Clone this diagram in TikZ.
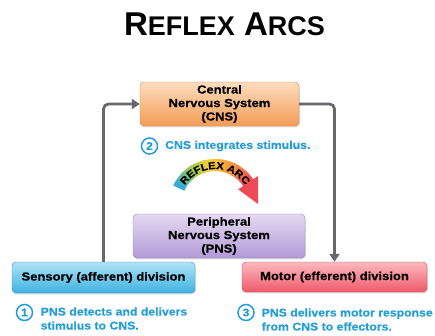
\documentclass[tikz,border=0pt]{standalone}
\usepackage{fontspec}
\setmainfont{Liberation Sans}
\newfontfamily\widesans[FakeStretch=1.12, BoldFeatures={FakeBold=0.6}]{Liberation Sans}
\newfontfamily\capsans[FakeStretch=1.095, BoldFeatures={FakeBold=0.4}]{Liberation Sans}
\usetikzlibrary{arrows.meta,shadows,decorations.text,calc}

\definecolor{captxt}{RGB}{36,158,216}
\definecolor{linkgray}{RGB}{104,105,110}
\definecolor{cnstop}{RGB}{253,221,190}
\definecolor{cnsbot}{RGB}{244,156,86}
\definecolor{pnstop}{RGB}{228,217,242}
\definecolor{pnsbot}{RGB}{178,154,214}
\definecolor{sentop}{RGB}{176,226,246}
\definecolor{senbot}{RGB}{62,178,226}
\definecolor{mottop}{RGB}{252,184,190}
\definecolor{motbot}{RGB}{237,90,106}
% colours along the reflex arc band
\definecolor{arcA}{RGB}{40,168,232}
\definecolor{arcB}{RGB}{150,202,70}
\definecolor{arcC}{RGB}{248,206,60}
\definecolor{arcD}{RGB}{247,150,60}
\definecolor{arcE}{RGB}{238,74,88}

\begin{document}
\begin{tikzpicture}[x=1pt,y=-1pt,
  divbox/.style={rounded corners=4pt, draw=#1bot!85!black, line width=.4pt,
    top color=#1top, bottom color=#1bot, align=center, inner sep=0pt,
    drop shadow={opacity=.28,shadow xshift=.8pt,shadow yshift=-1.4pt},
    font=\widesans\bfseries\fontsize{11.6}{13.5}\selectfont},
  caption/.style={text=captxt, align=left, inner sep=0pt,
    font=\capsans\bfseries\fontsize{11.2}{14}\selectfont},
  numcirc/.style={circle, draw=captxt, line width=1.5pt, minimum size=16pt,
    inner sep=0pt, text=captxt, font=\capsans\bfseries\fontsize{11}{11}\selectfont},
  link/.style={draw=linkgray, line width=2.8pt, rounded corners=5pt,
    -{Triangle[length=8pt,width=10pt]}}]

\useasboundingbox (0,0) rectangle (435,335);
\fill[white] (0,0) rectangle (435,335);

% title in hand-made small capitals
\node[anchor=base, inner sep=0pt] (title) at (224.5,35)
  {\bfseries\fontsize{33}{33}\selectfont R{\fontsize{27}{27}\selectfont EFLEX}
   A{\fontsize{27}{27}\selectfont RCS}};

% the four divisions
\node[divbox=cns, minimum width=159pt, minimum height=44pt] (cns) at (219.5,104)
  {Central\\Nervous System\\(CNS)};
\node[divbox=pns, minimum width=172pt, minimum height=44pt] (pns) at (219,236)
  {Peripheral\\Nervous System\\(PNS)};
\node[divbox=sen, minimum width=183pt, minimum height=31pt] (sen) at (103.5,277.5)
  {Sensory (afferent) division};
\node[divbox=mot, minimum width=185pt, minimum height=30pt] (mot) at (334.5,277)
  {Motor (efferent) division};

% pathway connectors
\draw[link] (sen.north) |- (cns.west);
\draw[link] (cns.east) -| (mot.north);

% numbered captions
\node[numcirc] (n2) at (149.5,146) {2};
\node[caption, anchor=west] (c2) at (165,146) {CNS integrates stimulus.};
\node[numcirc] (n1) at (24.5,312.5) {1};
\node[caption, anchor=west] (c1) at (40.5,318.5)
  {PNS detects and delivers\\stimulus to CNS.};
\node[numcirc] (n3) at (246,312.5) {3};
\node[caption, anchor=west] (c3) at (261.5,319.5)
  {PNS delivers motor response\\from CNS to effectors.};

% rainbow reflex arc band, built from thin annular sectors
\coordinate (arcc) at (215,205);
\foreach \ca/\cb/\aa/\ab in {arcA/arcB/155/125, arcB/arcC/125/98,
                             arcC/arcD/98/66, arcD/arcE/66/33} {
  \foreach \j in {0,...,19} {
    \pgfmathtruncatemacro\p{100*\j/19}
    \pgfmathsetmacro\sa{-(\aa+(\ab-\aa)*\j/20)}
    \pgfmathsetmacro\sb{-(\aa+(\ab-\aa)*(\j+1.4)/20)}
    \fill[\cb!\p!\ca] ($(arcc)+(\sa:46)$) arc[start angle=\sa, end angle=\sb, radius=46]
      -- ($(arcc)+(\sb:34)$) arc[start angle=\sb, end angle=\sa, radius=34] -- cycle;
  }
}
% arrowhead of the arc
\fill[arcE] ($(arcc)+(-34:28)$) -- ($(arcc)+(-34:52)$) -- (258,204) -- cycle;
% arc label
\path[decorate, decoration={text along path, text align=center,
  text={|\widesans\bfseries\fontsize{10}{10}\selectfont|REFLEX ARC}}]
  ($(arcc)+(-165:36)$) arc[start angle=-165, end angle=-15, radius=36];
\end{tikzpicture}
\end{document}
